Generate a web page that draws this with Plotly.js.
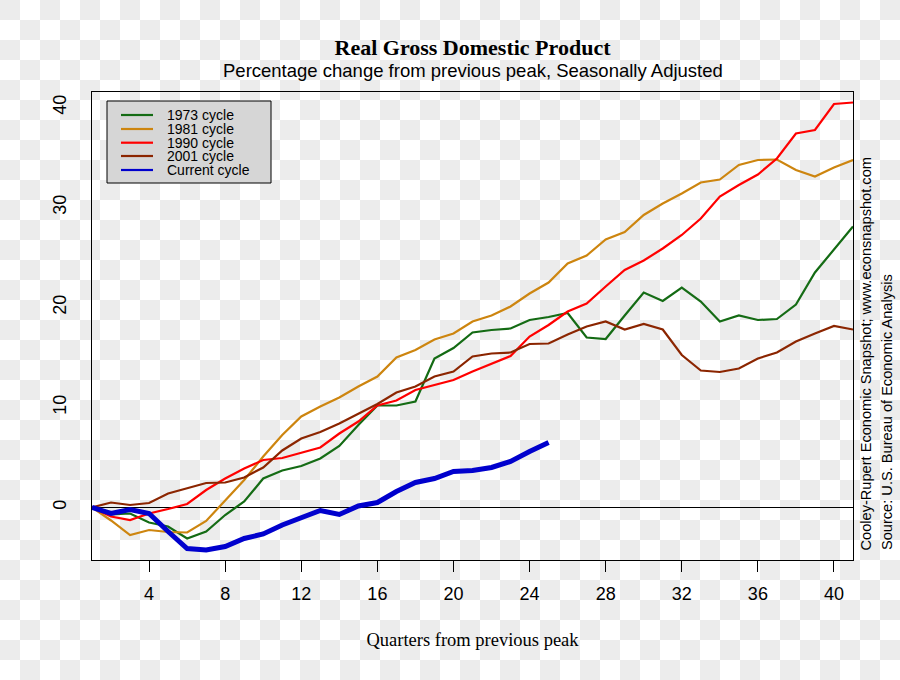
<!DOCTYPE html>
<html>
<head>
<meta charset="utf-8">
<script src="https://cdn.plot.ly/plotly-3.0.1.min.js"></script>
<style>
  html, body { margin: 0; padding: 0; }
  body {
    width: 900px; height: 680px; overflow: hidden;
    background: repeating-conic-gradient(#ffffff 0% 25%, #ececec 0% 50%) 0 0 / 40px 40px;
  }
  #chart { width: 900px; height: 680px; }
</style>
</head>
<body>
<div id="chart"></div>
<script>
// ---- data ----
const quarters = [1,2,3,4,5,6,7,8,9,10,11,12,13,14,15,16,17,18,19,20,21,22,23,24,25,26,27,28,29,30,31,32,33,34,35,36,37,38,39,40,41];

const cycle1973 = [0,-0.7,-0.6,-1.5,-1.9,-3.1,-2.4,-0.75,0.6,2.9,3.7,4.15,4.9,6.15,8.25,10.2,10.2,10.6,14.9,15.95,17.5,17.75,17.9,18.75,19.05,19.45,17.0,16.85,19.2,21.5,20.65,22.0,20.6,18.6,19.2,18.75,18.85,20.3,23.5,25.8,28.1];
const cycle1981 = [0,-1.3,-2.75,-2.25,-2.45,-2.5,-1.35,0.7,2.75,5.1,7.25,9.1,10.1,11.0,12.1,13.1,15.0,15.75,16.8,17.4,18.6,19.2,20.1,21.4,22.5,24.4,25.2,26.8,27.55,29.25,30.4,31.4,32.5,32.8,34.25,34.75,34.8,33.75,33.1,34.0,34.75];
const cycle1990 = [0,-0.9,-1.25,-0.6,-0.15,0.35,1.75,2.9,3.9,4.75,4.95,5.5,6.0,7.4,8.6,10.2,10.7,11.75,12.25,12.75,13.6,14.4,15.15,17.1,18.25,19.6,20.4,22.1,23.75,24.7,25.9,27.25,28.9,31.1,32.25,33.3,34.9,37.4,37.75,40.35,40.5];
const cycle2001 = [0,0.5,0.25,0.45,1.4,1.95,2.45,2.5,3.0,4.0,5.7,6.9,7.55,8.4,9.4,10.35,11.5,12.1,13.1,13.6,15.1,15.4,15.5,16.35,16.4,17.3,18.1,18.6,17.8,18.35,17.8,15.25,13.7,13.55,13.9,14.9,15.5,16.6,17.4,18.15,17.8];
const currentCycle = [0,-0.6,-0.2,-0.6,-2.4,-4.1,-4.25,-3.9,-3.1,-2.65,-1.75,-1.0,-0.3,-0.7,0.15,0.5,1.6,2.5,2.9,3.6,3.7,4.0,4.6,5.6,6.5];

const seriesNames = ["1973 cycle","1981 cycle","1990 cycle","2001 cycle","Current cycle"];
const xTickVals = [4,8,12,16,20,24,28,32,36,40];
const yTickVals = [0,10,20,30,40];

// ---- styles ----
const colors = ["#146b14","#cd850f","#ff0000","#8b2500","#0000cd"];
const widths = [2.2,2.2,2.2,2.2,5];
const seriesValues = [cycle1973, cycle1981, cycle1990, cycle2001, currentCycle];

const traces = seriesValues.map((vals, i) => ({
  type: "scatter",
  mode: "lines",
  x: quarters.slice(0, vals.length),
  y: vals,
  name: seriesNames[i],
  line: { color: colors[i], width: widths[i] },
  showlegend: false,
  hoverinfo: "x+y+name"
}));

// plot area in pixels
const L = 92, R = 853, T = 92, B = 560;
const px = x => (x - L) / (R - L);
const py = y => (B - y) / (B - T);

// manual legend (R style)
const legendRows = [115, 129, 142.7, 156, 170];
const shapes = [{
  type: "rect", xref: "paper", yref: "paper",
  x0: px(107), x1: px(271), y0: py(101), y1: py(183),
  fillcolor: "#d6d6d6", line: { color: "#000000", width: 1 }, layer: "above"
}];
const annotations = [];
seriesNames.forEach((nm, i) => {
  shapes.push({
    type: "line", xref: "paper", yref: "paper",
    x0: px(121), x1: px(153), y0: py(legendRows[i]), y1: py(legendRows[i]),
    line: { color: colors[i], width: 2.2 }, layer: "above"
  });
  annotations.push({
    xref: "paper", yref: "paper", x: px(166), y: py(legendRows[i]),
    xanchor: "left", yanchor: "middle", text: nm, showarrow: false, borderpad: 0,
    font: { family: "Liberation Sans, Arial, sans-serif", size: 14, color: "#000" }
  });
});

// subtitle
annotations.push({
  xref: "paper", yref: "paper", x: 0.5, y: py(71), xanchor: "center", yanchor: "middle",
  text: "Percentage change from previous peak, Seasonally Adjusted", showarrow: false,
  font: { family: "Liberation Sans, Arial, sans-serif", size: 18.5, color: "#000" }
});
// right-side notes
annotations.push({
  xref: "paper", yref: "paper", x: px(865), y: py(552), xanchor: "center", yanchor: "bottom",
  textangle: -90, text: "Cooley-Rupert Economic Snapshot; www.econsnapshot.com", showarrow: false,
  font: { family: "Liberation Sans, Arial, sans-serif", size: 14.6, color: "#000" }
});
annotations.push({
  xref: "paper", yref: "paper", x: px(887), y: py(552), xanchor: "center", yanchor: "bottom",
  textangle: -90, text: "Source: U.S. Bureau of Economic Analysis", showarrow: false,
  font: { family: "Liberation Sans, Arial, sans-serif", size: 14.6, color: "#000" }
});

const layout = {
  width: 900, height: 680,
  margin: { l: L, r: 900 - R, t: T, b: 680 - B },
  paper_bgcolor: "rgba(0,0,0,0)",
  plot_bgcolor: "rgba(0,0,0,0)",
  showlegend: false,
  title: {
    text: "<b>Real Gross Domestic Product</b>",
    font: { family: "Liberation Serif, Times New Roman, serif", size: 22, color: "#000" },
    x: 0.5, xref: "paper", y: 1 - 47 / 680, yref: "container", yanchor: "middle"
  },
  xaxis: {
    range: [1, 41],
    tickvals: xTickVals,
    ticktext: xTickVals.map(String),
    ticks: "outside", ticklen: 11, tickwidth: 1, tickcolor: "#000",
    showgrid: false, zeroline: false,
    showline: true, linecolor: "#000", linewidth: 1, mirror: true,
    tickfont: { family: "Liberation Sans, Arial, sans-serif", size: 18, color: "#000" },
    ticklabelstandoff: 6,
    title: {
      text: "Quarters from previous peak",
      font: { family: "Liberation Serif, Times New Roman, serif", size: 18.5, color: "#000" },
      standoff: 30
    },
    automargin: false
  },
  yaxis: {
    range: [-5.25, 41.55],
    tickvals: yTickVals,
    ticktext: yTickVals.map(String),
    tickangle: -90,
    ticks: "outside", ticklen: 18, tickcolor: "rgba(0,0,0,0)",
    showgrid: false,
    zeroline: true, zerolinecolor: "#000", zerolinewidth: 1,
    showline: true, linecolor: "#000", linewidth: 1, mirror: true,
    tickfont: { family: "Liberation Sans, Arial, sans-serif", size: 18, color: "#000" },
    automargin: false
  },
  shapes: shapes,
  annotations: annotations
};

Plotly.newPlot("chart", traces, layout, { displayModeBar: false, staticPlot: true });
</script>
</body>
</html>
